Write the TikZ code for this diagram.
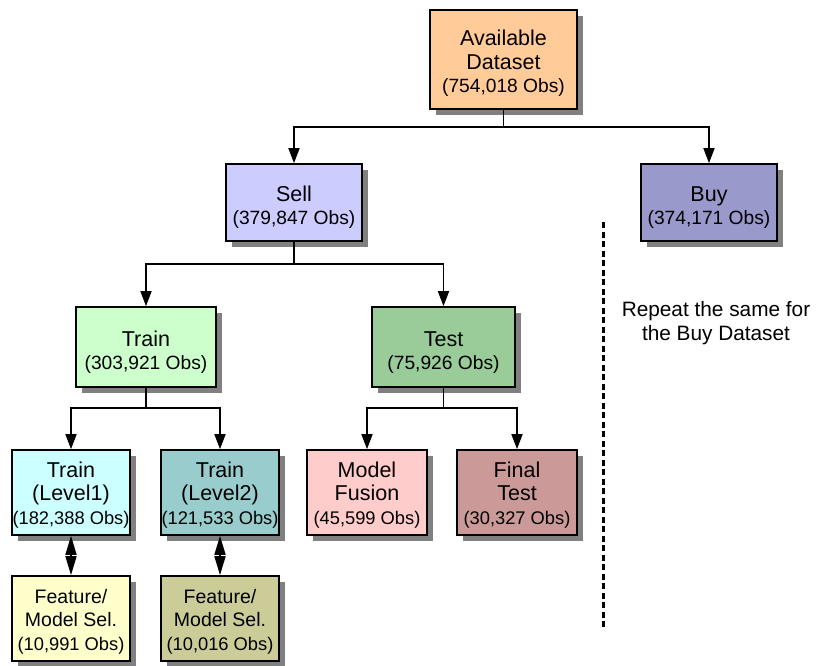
\documentclass[tikz,border=0pt]{standalone}
\usepackage{fontspec}
\setmainfont{Liberation Sans}
\usetikzlibrary{arrows.meta,shadows}
\definecolor{cAvail}{HTML}{FFCC99}
\definecolor{cSell}{HTML}{CCCCFF}
\definecolor{cBuy}{HTML}{9999CC}
\definecolor{cTrain}{HTML}{CCFFCC}
\definecolor{cTest}{HTML}{99CC99}
\definecolor{cLone}{HTML}{CCFFFF}
\definecolor{cLtwo}{HTML}{99CCCC}
\definecolor{cFusion}{HTML}{FFCCCC}
\definecolor{cFinal}{HTML}{CC9999}
\definecolor{cFone}{HTML}{FFFFCC}
\definecolor{cFtwo}{HTML}{CCCC99}
\definecolor{shadowgray}{HTML}{808080}
\tikzset{
  box/.style={draw=black, line width=1.7pt, align=center, inner sep=0pt,
    drop shadow={shadow xshift=6pt, shadow yshift=-6pt, fill=shadowgray, opacity=1},
    font=\fontsize{21.5}{23.5}\selectfont},
  small/.style={font=\fontsize{19.5}{23.5}\selectfont},
  conn/.style={line width=1.7pt, draw=black},
  arr/.style={conn, -{Triangle[length=15pt,width=11pt]}},
  dbl/.style={conn, {Triangle[length=19pt,width=11pt]}-{Triangle[length=19pt,width=11pt]}},
}
\newcommand{\obs}[1]{{\fontsize{19.2}{23.5}\selectfont #1}}
\newcommand{\obss}[1]{{\fontsize{18.3}{23.5}\selectfont #1}}
\newcommand{\lift}[1]{\rule{0pt}{#1}}
\begin{document}
\begin{tikzpicture}[x=1pt,y=-1pt]
\useasboundingbox (0,0) rectangle (817,665);
\node[box, fill=cAvail, minimum width=147pt, minimum height=99pt] (avail) at (503.5,59.5) {\lift{23.7pt}Available\\Dataset\\\obs{(754,018 Obs)}};
\node[box, fill=cSell, minimum width=136pt, minimum height=77pt] (sell) at (294,202.5) {\lift{24.5pt}Sell\\\obs{(379,847 Obs)}};
\node[box, fill=cBuy, minimum width=136pt, minimum height=77pt] (buy) at (709,202.5) {\lift{24.5pt}Buy\\\obs{(374,171 Obs)}};
\node[box, fill=cTrain, minimum width=140pt, minimum height=80pt] (train) at (146,347) {\lift{25.5pt}Train\\\obs{(303,921 Obs)}};
\node[box, fill=cTest, minimum width=143pt, minimum height=80pt] (test) at (443.5,347) {\lift{25.5pt}Test\\\obs{(75,926 Obs)}};
\node[box, fill=cLone, minimum width=118pt, minimum height=85pt] (lone) at (71,492.5) {\lift{20pt}Train\\(Level1)\\\obss{(182,388 Obs)}};
\node[box, fill=cLtwo, minimum width=118pt, minimum height=85pt] (ltwo) at (220,492.5) {\lift{20pt}Train\\(Level2)\\\obss{(121,533 Obs)}};
\node[box, fill=cFusion, minimum width=120pt, minimum height=85pt] (fusion) at (367,492.5) {\lift{20pt}Model\\Fusion\\\obss{(45,599 Obs)}};
\node[box, fill=cFinal, minimum width=120pt, minimum height=85pt] (final) at (517,492.5) {\lift{20pt}Final\\Test\\\obss{(30,327 Obs)}};
\node[box, small, fill=cFone, minimum width=118pt, minimum height=85pt] (fone) at (71,618.5) {\lift{20.2pt}Feature/\\Model Sel.\\\obss{(10,991 Obs)}};
\node[box, small, fill=cFtwo, minimum width=118pt, minimum height=85pt] (ftwo) at (220,618.5) {\lift{20.2pt}Feature/\\Model Sel.\\\obss{(10,016 Obs)}};
\node[align=center, font=\fontsize{20.8}{24}\selectfont] (note) at (716,323) {Repeat the same for\\the Buy Dataset};
\coordinate (jA) at (503.5,127);
\coordinate (jS) at (294,264);
\coordinate (jT) at (146,408);
\coordinate (jE) at (443.5,408);
\coordinate (dtop) at (603,222);
\coordinate (dbot) at (603,628);
\draw[conn] (avail.south) -- (jA);
\draw[arr] (jA) -| (sell.north);
\draw[arr] (jA) -| (buy.north);
\draw[conn] (sell.south) -- (jS);
\draw[arr] (jS) -| (train.north);
\draw[arr] (jS) -| (test.north);
\draw[conn] (train.south) -- (jT);
\draw[arr] (jT) -| (lone.north);
\draw[arr] (jT) -| (ltwo.north);
\draw[conn] (test.south) -- (jE);
\draw[arr] (jE) -| (fusion.north);
\draw[arr] (jE) -| (final.north);
\draw[dbl] (lone.south) -- (fone.north);
\draw[dbl] (ltwo.south) -- (ftwo.north);
\draw[line width=3pt, dash pattern=on 6pt off 3.5pt] (dtop) -- (dbot);
\end{tikzpicture}
\end{document}
